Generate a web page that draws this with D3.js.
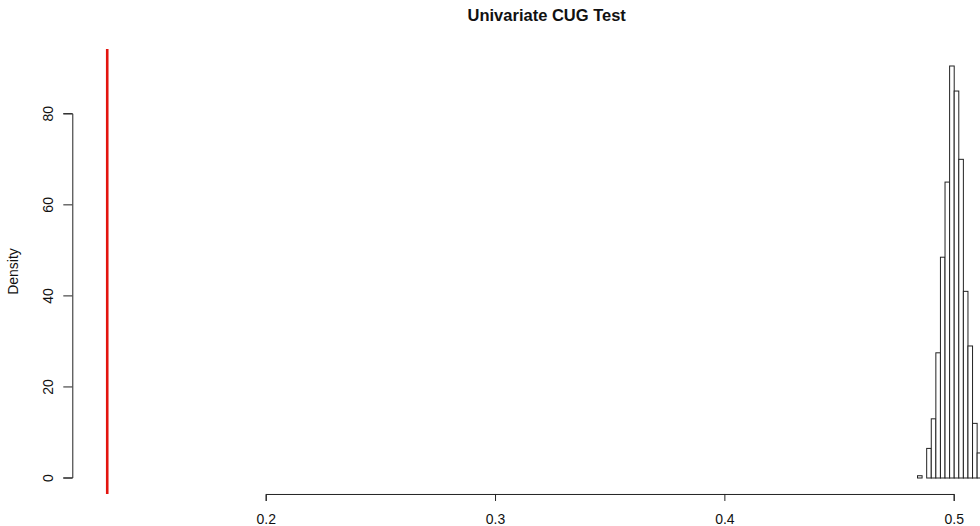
<!DOCTYPE html>
<html>
<head>
<meta charset="utf-8">
<script src="https://cdn.jsdelivr.net/npm/d3@7"></script>
<style>
  html, body { margin: 0; padding: 0; background: #fff; }
  svg { display: block; font-family: "Liberation Sans", Arial, Helvetica, sans-serif; }
</style>
</head>
<body>
<svg id="chart" width="980" height="526"></svg>
<script>
// ---- data ----
const chartTitle = "Univariate CUG Test";
const yLabel = "Density";
const binEdges = [0.484, 0.486, 0.488, 0.490, 0.492, 0.494, 0.496, 0.498, 0.500, 0.502, 0.504, 0.506, 0.508, 0.510, 0.512, 0.514];
const densities = [0.5, 0, 6.5, 13, 27.5, 48.5, 65, 90.5, 85, 70, 41, 29, 12, 5.5, 5.5];
const observedValue = 0.1309;
const xTicks = [0.2, 0.3, 0.4, 0.5];
const yTicks = [0, 20, 40, 60, 80];

// ---- layout ----
const svg = d3.select("#chart");
const x = d3.scaleLinear().domain([0.2, 0.5]).range([265.7, 953.7]);
const y = d3.scaleLinear().domain([0, 80]).range([477.5, 113.3]);
const yMax = d3.max(densities);
const yLim = [-0.04 * yMax, yMax * 1.04];
const plotBottom = y(yLim[0]);
const plotTop = y(yLim[1]);
const axisX = 72.3;

const ink = "#222";
const txt = "#111";

// title
svg.append("text")
  .attr("x", 546.7).attr("y", 21)
  .attr("text-anchor", "middle")
  .attr("font-size", 16.5).attr("font-weight", "bold")
  .attr("fill", txt)
  .text(chartTitle);

// histogram bars
const bins = densities.map((d, i) => ({ x0: binEdges[i], x1: binEdges[i + 1], d }));
svg.append("g").selectAll("rect").data(bins).join("rect")
  .attr("x", b => x(b.x0) + 0.5)
  .attr("y", b => y(b.d) + 0.5)
  .attr("width", b => x(b.x1) - x(b.x0))
  .attr("height", b => y(0) - y(b.d))
  .attr("fill", "#fff")
  .attr("stroke", ink)
  .attr("stroke-width", 1);

// x axis
const gx = svg.append("g")
  .attr("transform", `translate(0,${plotBottom})`)
  .call(d3.axisBottom(x).tickValues(xTicks).tickFormat(d3.format(".1f")).tickSize(7).tickSizeOuter(7));
gx.select(".domain").attr("stroke", ink);
gx.selectAll(".tick line").attr("stroke", ink);
gx.selectAll(".tick text")
  .attr("y", 30).attr("dy", 0)
  .attr("font-size", 14).attr("fill", txt)
  .attr("font-family", "Liberation Sans, Arial, sans-serif");

// y axis
const gy = svg.append("g")
  .attr("transform", `translate(${axisX},0)`)
  .call(d3.axisLeft(y).tickValues(yTicks).tickFormat(d3.format("d")).tickSize(9).tickSizeOuter(9));
gy.select(".domain").attr("stroke", ink);
gy.selectAll(".tick line").attr("stroke", ink);
gy.selectAll(".tick text")
  .attr("transform", "rotate(-90)")
  .attr("x", 0).attr("y", -19.3).attr("dy", 0)
  .attr("text-anchor", "middle")
  .attr("font-size", 14).attr("fill", txt)
  .attr("font-family", "Liberation Sans, Arial, sans-serif");

// y label
svg.append("text")
  .attr("transform", `translate(18,${(plotTop + plotBottom) / 2}) rotate(-90)`)
  .attr("text-anchor", "middle")
  .attr("font-size", 14).attr("fill", txt)
  .text(yLabel);

// observed value line
svg.append("line")
  .attr("x1", x(observedValue)).attr("x2", x(observedValue))
  .attr("y1", plotTop).attr("y2", plotBottom)
  .attr("stroke", "#e3140f")
  .attr("stroke-width", 2.6);
</script>
</body>
</html>
